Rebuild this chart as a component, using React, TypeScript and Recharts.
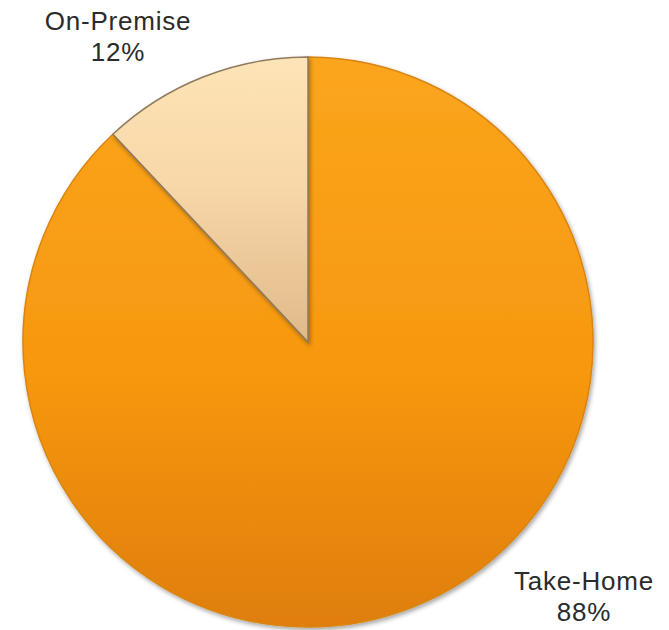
import { PieChart, Pie, Cell } from "recharts";

const names = ["Take-Home", "On-Premise"];
const shares = [88, 12];
const percentLabels = ["88%", "12%"];

const data = names.map((name, i) => ({ name, value: shares[i], pct: percentLabels[i] }));

const fills = ["url(#gradTake)", "url(#gradOn)"];
const strokes = ["#d98512", "#8f7a5e"];

// label anchor offsets from the pie centre (Excel "best fit" placement)
const labelOffsets: Record<string, { dx: number; dy: number }> = {
  "Take-Home": { dx: 276, dy: 248 },
  "On-Premise": { dx: -190, dy: -312 },
};

function renderLabel(props: any) {
  const { cx, cy, payload, name } = props;
  const key = name ?? payload?.name;
  const off = labelOffsets[key];
  if (!off) return null;
  const x = cx + off.dx;
  const y = cy + off.dy;
  return (
    <text
      x={x}
      y={y}
      textAnchor="middle"
      fill="#2b2b2b"
      fontFamily="'Liberation Sans', Arial, sans-serif"
      fontSize={26}
      letterSpacing={0.8}
    >
      <tspan x={x} dy={0}>{key}</tspan>
      <tspan x={x} dy={31}>{payload?.pct ?? ""}</tspan>
    </text>
  );
}

export default function App() {
  return (
    <div style={{ position: "absolute", left: 0, top: 0, width: 669, height: 630, background: "#fff" }}>
      <style>{`.recharts-pie-sector { filter: url(#shadow); }`}</style>
      <PieChart width={669} height={630} margin={{ top: 0, right: 0, bottom: 0, left: 0 }}>
        <defs>
          <linearGradient id="gradTake" x1="0" y1="0" x2="0" y2="1">
            <stop offset="0%" stopColor="#fba51c" />
            <stop offset="55%" stopColor="#f7980f" />
            <stop offset="100%" stopColor="#df7e0e" />
          </linearGradient>
          <linearGradient id="gradOn" x1="0" y1="0" x2="0" y2="1">
            <stop offset="0%" stopColor="#fde4b6" />
            <stop offset="45%" stopColor="#f8d7a8" />
            <stop offset="100%" stopColor="#e0b98a" />
          </linearGradient>
          <filter id="shadow" x="-10%" y="-10%" width="120%" height="120%">
            <feDropShadow dx="1.5" dy="2.5" stdDeviation="2" floodColor="#000" floodOpacity="0.35" />
          </filter>
        </defs>
        <Pie
          data={data}
          dataKey="value"
          nameKey="name"
          cx={308}
          cy={342}
          outerRadius={285}
          startAngle={90}
          endAngle={-270}
          stroke="none"
          label={renderLabel}
          labelLine={false}
          isAnimationActive={false}
        >
          {data.map((d, i) => (
            <Cell key={d.name} fill={fills[i]} stroke={strokes[i]} strokeWidth={1.5} />
          ))}
        </Pie>
      </PieChart>
    </div>
  );
}
